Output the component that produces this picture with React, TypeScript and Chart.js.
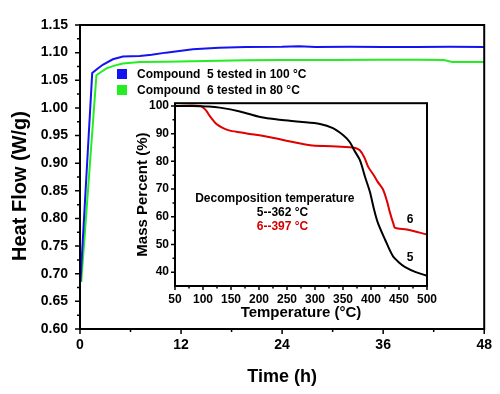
import { useEffect, useRef } from 'react';
import { Chart, registerables } from 'chart.js';

Chart.register(...registerables);

// ---------- Main chart data (Heat flow vs time) ----------
const hoursBlue = [0.05, 1.45, 2.0, 2.7, 3.9, 5.1, 7.1, 8.5, 10.2, 13.4, 16.5, 19.7, 24, 26, 28, 32, 36, 40, 44, 48];
const flowBlue = [0.685, 1.063, 1.07, 1.078, 1.088, 1.093, 1.094, 1.096, 1.1, 1.106, 1.109, 1.11, 1.1105, 1.1115, 1.11, 1.1105, 1.11, 1.11, 1.1105, 1.11];
const hoursGreen = [0.15, 1.95, 2.5, 3.2, 4.2, 5.1, 7.1, 10.2, 13.4, 16.5, 19.7, 24, 30, 36, 40, 43.2, 44.2, 48];
const flowGreen = [0.685, 1.059, 1.065, 1.072, 1.077, 1.0805, 1.083, 1.0835, 1.0845, 1.0855, 1.086, 1.0865, 1.0865, 1.087, 1.087, 1.0865, 1.083, 1.083];

const heatTicks = [0.6, 0.65, 0.7, 0.75, 0.8, 0.85, 0.9, 0.95, 1.0, 1.05, 1.1, 1.15];
const heatMinor = [0.625, 0.675, 0.725, 0.775, 0.825, 0.875, 0.925, 0.975, 1.025, 1.075, 1.125];
const timeTicks = [0, 12, 24, 36, 48];
const timeMinor = [6, 18, 30, 42];

const legendLabels = ['Compound  5 tested in 100 \u00B0C', 'Compound  6 tested in 80 \u00B0C'];
const legendColors = ['#1414f0', '#22ee22'];
const mainXTitle = 'Time (h)';
const mainYTitle = 'Heat Flow (W/g)';

// ---------- Inset data (TGA) ----------
const tempBlack = [50, 80, 110, 130, 166, 202, 237, 273, 309, 332, 350, 362, 370, 380, 390, 398, 405, 412, 425, 439, 450, 461, 480, 500];
const massBlack = [100, 100, 99.8, 99.4, 98, 96, 95, 94.3, 93.5, 92, 89.5, 87, 84, 80.5, 74, 69, 63, 58, 51.8, 45.8, 43.5, 41.8, 40, 38.7];
const tempRed = [50, 95, 105, 112, 124, 136, 148, 178, 220, 261, 296, 330, 362, 372, 380, 388, 395, 405, 412, 421, 428, 434, 440, 443, 464, 500];
const massRed = [100, 100, 98.5, 96.4, 93.5, 92, 91.1, 90.1, 88.7, 87, 85.7, 85.5, 85.1, 84.8, 84, 81.5, 78, 75, 72.6, 70, 66, 61.4, 57.5, 56, 55.4, 53.6];

const massTicks = [40, 50, 60, 70, 80, 90, 100];
const massMinor = [45, 55, 65, 75, 85, 95];
const tempTicks = [50, 100, 150, 200, 250, 300, 350, 400, 450, 500];
const tempMinor = [75, 125, 175, 225, 275, 325, 375, 425, 475];

const insetXTitle = 'Temperature (\u00B0C)';
const insetYTitle = 'Mass Percent (%)';
const decompTitle = 'Decomposition temperature';
const decompLines = ['5--362 \u00B0C', '6--397 \u00B0C'];
const decompColors = ['#000000', '#d40000'];
const curveLabels = ['6', '5'];

const FONT = "'Liberation Sans', Arial, Helvetica, sans-serif";

function drawTicks(ctx: CanvasRenderingContext2D, chart: any, xMajor: number[], xMinor: number[], yMajor: number[], yMinor: number[], majLen: number, minLen: number) {
  const { left, bottom } = chart.chartArea;
  const xs = chart.scales.x;
  const ys = chart.scales.y;
  ctx.save();
  ctx.strokeStyle = '#000';
  ctx.lineWidth = 1.5;
  ctx.beginPath();
  xMajor.forEach((v) => { const px = xs.getPixelForValue(v); ctx.moveTo(px, bottom); ctx.lineTo(px, bottom + majLen); });
  xMinor.forEach((v) => { const px = xs.getPixelForValue(v); ctx.moveTo(px, bottom); ctx.lineTo(px, bottom + minLen); });
  yMajor.forEach((v) => { const py = ys.getPixelForValue(v); ctx.moveTo(left, py); ctx.lineTo(left - majLen, py); });
  yMinor.forEach((v) => { const py = ys.getPixelForValue(v); ctx.moveTo(left, py); ctx.lineTo(left - minLen, py); });
  ctx.stroke();
  ctx.restore();
}

const mainDecor = {
  id: 'mainDecor',
  afterDraw(chart: any) {
    const ctx: CanvasRenderingContext2D = chart.ctx;
    const { left, top, right, bottom } = chart.chartArea;
    drawTicks(ctx, chart, timeTicks, timeMinor, heatTicks, heatMinor, 5, 3);
    ctx.save();
    ctx.strokeStyle = '#000';
    ctx.lineWidth = 2;
    ctx.strokeRect(left, top, right - left, bottom - top);
    // titles
    ctx.fillStyle = '#000';
    ctx.font = `bold 18px ${FONT}`;
    ctx.textAlign = 'center';
    ctx.textBaseline = 'middle';
    ctx.fillText(mainXTitle, (left + right) / 2, bottom + 48);
    ctx.save();
    ctx.translate(left - 60, (top + bottom) / 2 + 9);
    ctx.rotate(-Math.PI / 2);
    ctx.font = `bold 20px ${FONT}`;
    ctx.fillText(mainYTitle, 0, 0);
    ctx.restore();
    // legend
    ctx.font = `bold 12px ${FONT}`;
    ctx.textAlign = 'left';
    legendLabels.forEach((lab, i) => {
      const y0 = top + 44 + i * 16;
      ctx.fillStyle = legendColors[i];
      ctx.fillRect(left + 37, y0, 10, 10);
      ctx.fillStyle = '#000';
      ctx.fillText(lab, left + 57, y0 + 5.5);
    });
    ctx.restore();
  },
};

const insetDecor = {
  id: 'insetDecor',
  beforeDraw(chart: any) {
    const ctx: CanvasRenderingContext2D = chart.ctx;
    const { left, top, right, bottom } = chart.chartArea;
    ctx.save();
    ctx.fillStyle = '#fff';
    ctx.fillRect(left, top, right - left, bottom - top);
    ctx.restore();
  },
  afterDraw(chart: any) {
    const ctx: CanvasRenderingContext2D = chart.ctx;
    const { left, top, right, bottom } = chart.chartArea;
    const xs = chart.scales.x;
    const ys = chart.scales.y;
    drawTicks(ctx, chart, tempTicks, tempMinor, massTicks, massMinor, 4, 2.5);
    ctx.save();
    ctx.strokeStyle = '#000';
    ctx.lineWidth = 2;
    ctx.strokeRect(left, top, right - left, bottom - top);
    ctx.fillStyle = '#000';
    ctx.textBaseline = 'middle';
    ctx.textAlign = 'center';
    ctx.font = `bold 15px ${FONT}`;
    ctx.fillText(insetXTitle, (left + right) / 2, bottom + 27);
    ctx.save();
    ctx.translate(left - 32, (top + bottom) / 2);
    ctx.rotate(-Math.PI / 2);
    ctx.fillText(insetYTitle, 0, 0);
    ctx.restore();
    // decomposition annotation
    ctx.font = `bold 12px ${FONT}`;
    ctx.textAlign = 'left';
    ctx.fillText(decompTitle, xs.getPixelForValue(86), ys.getPixelForValue(66.5));
    decompLines.forEach((t, i) => {
      ctx.fillStyle = decompColors[i];
      ctx.fillText(t, xs.getPixelForValue(196), ys.getPixelForValue(61.5 - i * 5));
    });
    ctx.fillStyle = '#000';
    ctx.textAlign = 'center';
    ctx.fillText(curveLabels[0], xs.getPixelForValue(470), ys.getPixelForValue(59));
    ctx.fillText(curveLabels[1], xs.getPixelForValue(470), ys.getPixelForValue(45.4));
    ctx.restore();
  },
};

export default function App() {
  const mainRef = useRef<HTMLCanvasElement>(null);
  const insetRef = useRef<HTMLCanvasElement>(null);

  useEffect(() => {
    document.body.style.margin = '0';
    const tickFont = (size: number) => ({ family: FONT, size, weight: 'bold' as const });

    const main = new Chart(mainRef.current!, {
      type: 'line',
      data: {
        datasets: [
          {
            data: hoursBlue.map((x, i) => ({ x, y: flowBlue[i] })),
            borderColor: legendColors[0],
            borderWidth: 2,
            pointRadius: 0,
            tension: 0,
          },
          {
            data: hoursGreen.map((x, i) => ({ x, y: flowGreen[i] })),
            borderColor: legendColors[1],
            borderWidth: 2,
            pointRadius: 0,
            tension: 0,
          },
        ],
      },
      options: {
        animation: false,
        responsive: false,
        maintainAspectRatio: false,
        layout: { padding: { top: 25, right: 13, left: 0, bottom: 0 } },
        plugins: { legend: { display: false }, tooltip: { enabled: false } },
        scales: {
          x: {
            type: 'linear',
            min: 0,
            max: 48,
            afterBuildTicks: (s: any) => { s.ticks = timeTicks.map((v) => ({ value: v })); },
            afterFit: (s: any) => { s.height = 65; },
            grid: { display: false, drawTicks: false },
            border: { display: false },
            ticks: { font: tickFont(14), color: '#000', padding: 8, maxRotation: 0, autoSkip: false },
          },
          y: {
            type: 'linear',
            min: 0.6,
            max: 1.15,
            afterBuildTicks: (s: any) => { s.ticks = heatTicks.map((v) => ({ value: v })); },
            afterFit: (s: any) => { s.width = 80; },
            grid: { display: false, drawTicks: false },
            border: { display: false },
            ticks: { font: tickFont(14), color: '#000', padding: 12, autoSkip: false, callback: (v: any) => Number(v).toFixed(2) },
          },
        },
      },
      plugins: [mainDecor],
    });

    const inset = new Chart(insetRef.current!, {
      type: 'line',
      data: {
        datasets: [
          {
            data: tempBlack.map((x, i) => ({ x, y: massBlack[i] })),
            borderColor: '#000000',
            borderWidth: 2,
            pointRadius: 0,
            tension: 0.3,
          },
          {
            data: tempRed.map((x, i) => ({ x, y: massRed[i] })),
            borderColor: '#e00000',
            borderWidth: 2,
            pointRadius: 0,
            tension: 0.3,
          },
        ],
      },
      options: {
        animation: false,
        responsive: false,
        maintainAspectRatio: false,
        layout: { padding: { top: 11.5, right: 23, left: 0, bottom: 0 } },
        plugins: { legend: { display: false }, tooltip: { enabled: false } },
        scales: {
          x: {
            type: 'linear',
            min: 50,
            max: 500,
            afterBuildTicks: (s: any) => { s.ticks = tempTicks.map((v) => ({ value: v })); },
            afterFit: (s: any) => { s.height = 44; },
            grid: { display: false, drawTicks: false },
            border: { display: false },
            ticks: { font: tickFont(12), color: '#000', padding: 6, maxRotation: 0, autoSkip: false },
          },
          y: {
            type: 'linear',
            min: 35,
            max: 101,
            afterBuildTicks: (s: any) => { s.ticks = massTicks.map((v) => ({ value: v })); },
            afterFit: (s: any) => { s.width = 55; },
            grid: { display: false, drawTicks: false },
            border: { display: false },
            ticks: { font: tickFont(12), color: '#000', padding: 6, autoSkip: false },
          },
        },
      },
      plugins: [insetDecor],
    });

    return () => {
      main.destroy();
      inset.destroy();
    };
  }, []);

  return (
    <div style={{ position: 'fixed', left: 0, top: 0, width: 500, height: 394, background: '#fff' }}>
      <canvas ref={mainRef} width={500} height={394} style={{ position: 'absolute', left: 0, top: 0, width: 500, height: 394 }} />
      <canvas ref={insetRef} width={330} height={240} style={{ position: 'absolute', left: 120, top: 90, width: 330, height: 240 }} />
    </div>
  );
}
